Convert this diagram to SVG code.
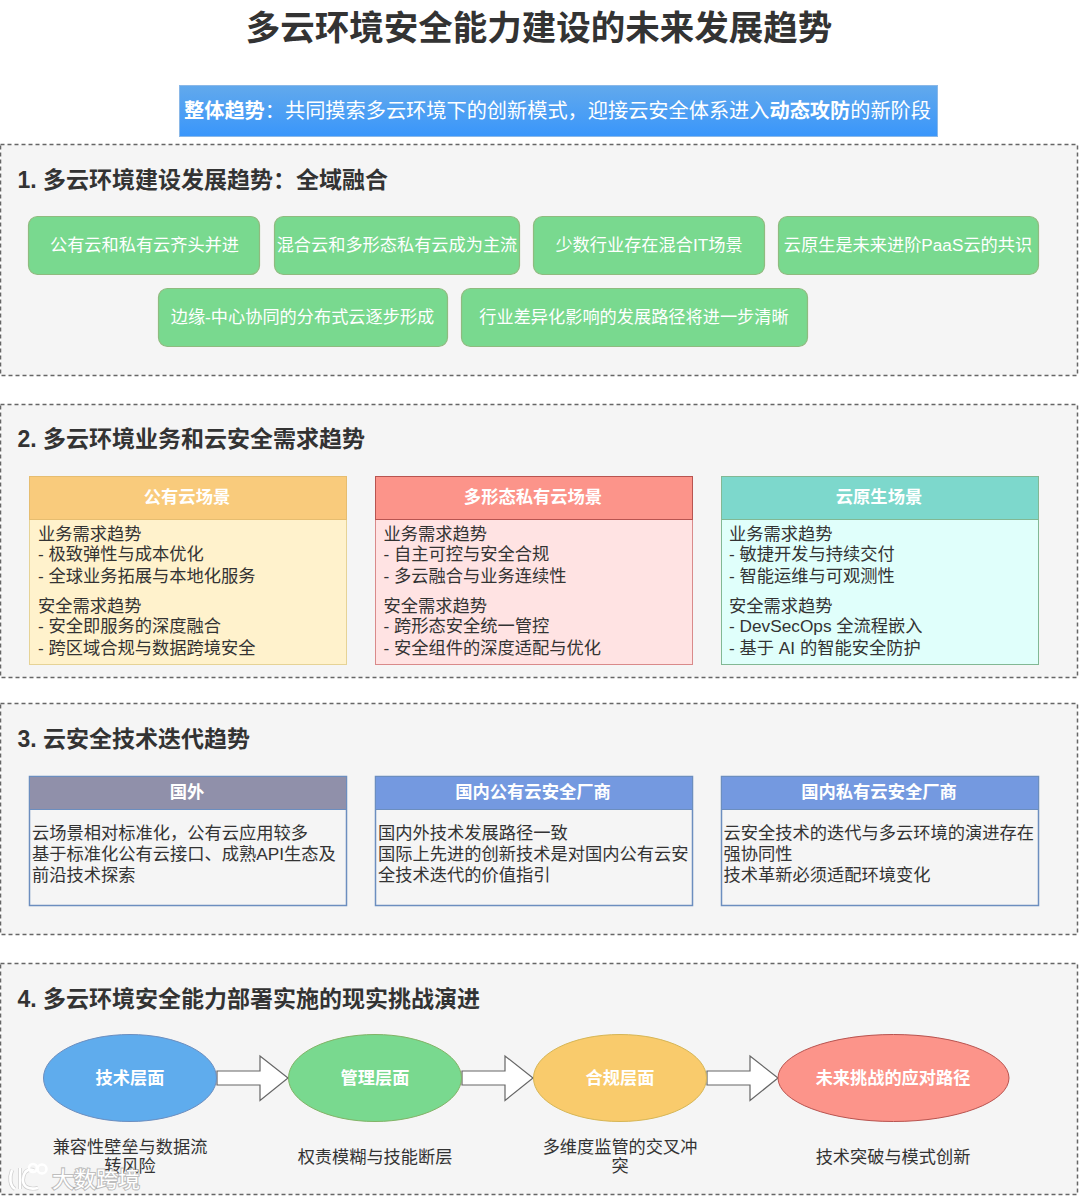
<svg xmlns="http://www.w3.org/2000/svg" width="1080" height="1198" viewBox="0 0 1080 1198">
<style>
text{font-family:"Liberation Sans","Noto Sans CJK SC",sans-serif}
.c{text-anchor:middle}
.sec{fill:#f5f5f5;stroke:#666;stroke-width:1.500;stroke-dasharray:4 3}
.h{font-size:23px;font-weight:bold;fill:#333}
.g rect{fill:#79d98f;stroke:#8fbb7f;stroke-width:1.200}
.g text{font-size:17.200px;fill:#fff;text-anchor:middle}
.th{font-size:17.300px;font-weight:bold;fill:#fff;text-anchor:middle}
.b{font-size:17.250px;fill:#333}
.e{font-size:17.200px;font-weight:bold;fill:#fff;text-anchor:middle}
.cap{font-size:17.200px;fill:#333;text-anchor:middle}
.arrow{fill:#fff;stroke:#666;stroke-width:1.200}
.wmh{fill:none;stroke:#999;stroke-width:4;opacity:.45}
.wm{fill:none;stroke:#fff;stroke-width:2.600}
</style>
<defs><linearGradient id="bl" x1="0" y1="0" x2="0" y2="1"><stop offset="0" stop-color="#62a9ec"/><stop offset="1" stop-color="#3996fb"/></linearGradient></defs>
<rect width="1080" height="1198" fill="#fff"/>
<text id="title" x="539" y="40" class="c" font-size="34.500" font-weight="bold" fill="#333">多云环境安全能力建设的未来发展趋势</text>
<g id="overall"><rect x="179.500" y="85.500" width="758" height="51" fill="url(#bl)" stroke="#8ab8e8"/>
<text x="557.500" y="118" class="c" font-size="20.200" fill="#fff"><tspan font-weight="bold">整体趋势</tspan>：共同摸索多云环境下的创新模式，迎接云安全体系进入<tspan font-weight="bold">动态攻防</tspan>的新阶段</text></g>

<g id="section1"><rect class="sec" x="0.500" y="144.500" width="1077" height="231"/>
<text class="h" x="17.500" y="188">1. 多云环境建设发展趋势：全域融合</text>
<g class="g">
<g id="n1a"><rect x="28.500" y="216.500" width="231" height="58" rx="9"/><text x="144.500" y="251">公有云和私有云齐头并进</text></g>
<g id="n1b"><rect x="274.500" y="216.500" width="245" height="58" rx="9"/><text x="397" y="251">混合云和多形态私有云成为主流</text></g>
<g id="n1c"><rect x="533.500" y="216.500" width="231" height="58" rx="9"/><text x="649" y="251">少数行业存在混合IT场景</text></g>
<g id="n1d"><rect x="778.500" y="216.500" width="260" height="58" rx="9"/><text x="908" y="251">云原生是未来进阶PaaS云的共识</text></g>
<g id="n1e"><rect x="158.500" y="288.500" width="289" height="58" rx="9"/><text x="302.500" y="323">边缘-中心协同的分布式云逐步形成</text></g>
<g id="n1f"><rect x="461.500" y="288.500" width="346" height="58" rx="9"/><text x="634" y="323">行业差异化影响的发展路径将进一步清晰</text></g>
</g></g>

<g id="section2"><rect class="sec" x="0.500" y="404.500" width="1077" height="273"/>
<text class="h" x="17.500" y="447">2. 多云环境业务和云安全需求趋势</text>
<g id="n2a"><rect x="29.500" y="476.500" width="317" height="188" fill="#fff2cc" stroke="#e6d396"/><rect x="29.500" y="476.500" width="317" height="43" fill="#f9cb7c" stroke="#e6bd70"/>
<text class="th" x="187" y="503">公有云场景</text>
<text class="b" x="38" y="540">业务需求趋势</text><text class="b" x="38" y="560">- 极致弹性与成本优化</text><text class="b" x="38" y="582">- 全球业务拓展与本地化服务</text>
<text class="b" x="38" y="612">安全需求趋势</text><text class="b" x="38" y="632">- 安全即服务的深度融合</text><text class="b" x="38" y="654">- 跨区域合规与数据跨境安全</text></g>
<g id="n2b"><rect x="375.500" y="476.500" width="317" height="188" fill="#ffe3e3" stroke="#d98a8a"/><rect x="375.500" y="476.500" width="317" height="43" fill="#fc948a" stroke="#b85450"/>
<text class="th" x="533" y="503">多形态私有云场景</text>
<text class="b" x="383.500" y="540">业务需求趋势</text><text class="b" x="383.500" y="560">- 自主可控与安全合规</text><text class="b" x="383.500" y="582">- 多云融合与业务连续性</text>
<text class="b" x="383.500" y="612">安全需求趋势</text><text class="b" x="383.500" y="632">- 跨形态安全统一管控</text><text class="b" x="383.500" y="654">- 安全组件的深度适配与优化</text></g>
<g id="n2c"><rect x="721.500" y="476.500" width="317" height="188" fill="#e0fffb" stroke="#82b894"/><rect x="721.500" y="476.500" width="317" height="43" fill="#7dd8cc" stroke="#82b894"/>
<text class="th" x="879" y="503">云原生场景</text>
<text class="b" x="729" y="540">业务需求趋势</text><text class="b" x="729" y="560">- 敏捷开发与持续交付</text><text class="b" x="729" y="582">- 智能运维与可观测性</text>
<text class="b" x="729" y="612">安全需求趋势</text><text class="b" x="729" y="632">- DevSecOps 全流程嵌入</text><text class="b" x="729" y="654">- 基于 AI 的智能安全防护</text></g></g>

<g id="section3"><rect class="sec" x="0.500" y="703.500" width="1077" height="231"/>
<text class="h" x="17.500" y="747">3. 云安全技术迭代趋势</text>
<g id="n3a"><rect x="29.500" y="776.500" width="317" height="129" fill="#f5f5f5" stroke="#6c8ebf" stroke-width="1.500"/><rect x="29.500" y="776.500" width="317" height="33" fill="#9090aa" stroke="#6c8ebf"/>
<text class="th" x="187" y="798">国外</text>
<text class="b" x="32" y="839">云场景相对标准化，公有云应用较多</text><text class="b" x="32" y="860">基于标准化公有云接口、成熟API生态及</text><text class="b" x="32" y="881">前沿技术探索</text></g>
<g id="n3b"><rect x="375.500" y="776.500" width="317" height="129" fill="#f5f5f5" stroke="#6c8ebf" stroke-width="1.500"/><rect x="375.500" y="776.500" width="317" height="33" fill="#7499e0" stroke="#6c8ebf"/>
<text class="th" x="533" y="798">国内公有云安全厂商</text>
<text class="b" x="378" y="839">国内外技术发展路径一致</text><text class="b" x="378" y="860">国际上先进的创新技术是对国内公有云安</text><text class="b" x="378" y="881">全技术迭代的价值指引</text></g>
<g id="n3c"><rect x="721.500" y="776.500" width="317" height="129" fill="#f5f5f5" stroke="#6c8ebf" stroke-width="1.500"/><rect x="721.500" y="776.500" width="317" height="33" fill="#7499e0" stroke="#6c8ebf"/>
<text class="th" x="879" y="798">国内私有云安全厂商</text>
<text class="b" x="723.500" y="839">云安全技术的迭代与多云环境的演进存在</text><text class="b" x="723.500" y="860">强协同性</text><text class="b" x="723.500" y="881">技术革新必须适配环境变化</text></g></g>

<g id="section4"><rect class="sec" x="0.500" y="963.500" width="1077" height="231"/>
<text class="h" x="17.500" y="1007">4. 多云环境安全能力部署实施的现实挑战演进</text>
<g id="connectors">
<path class="arrow" d="M217 1071H260V1056L288 1078L260 1100.500V1085H217Z"/>
<path class="arrow" d="M462 1071H505V1056L533 1078L505 1100.500V1085H462Z"/>
<path class="arrow" d="M707 1071H750V1056L778 1078L750 1100.500V1085H707Z"/>
</g>
<g id="n4a"><ellipse cx="130" cy="1078" rx="86.500" ry="43.500" fill="#5faced" stroke="#6c8ebf"/><text class="e" x="130" y="1084">技术层面</text><text class="cap" x="130" y="1153">兼容性壁垒与数据流</text><text class="cap" x="130" y="1172">转风险</text></g>
<g id="n4b"><ellipse cx="375" cy="1078" rx="86.500" ry="43.500" fill="#79d98f" stroke="#82b366"/><text class="e" x="375" y="1084">管理层面</text><text class="cap" x="375" y="1163">权责模糊与技能断层</text></g>
<g id="n4c"><ellipse cx="620" cy="1078" rx="86.500" ry="43.500" fill="#f9cb6c" stroke="#d6b656"/><text class="e" x="620" y="1084">合规层面</text><text class="cap" x="620" y="1153">多维度监管的交叉冲</text><text class="cap" x="620" y="1172">突</text></g>
<g id="n4d"><ellipse cx="893.500" cy="1078" rx="115.500" ry="43.500" fill="#fc948a" stroke="#b85450"/><text class="e" x="893" y="1084">未来挑战的应对路径</text><text class="cap" x="893" y="1163">技术突破与模式创新</text></g>
</g>
<g id="watermark">
<path class="wmh" d="M12 1170C9 1178 10 1186 15 1189M20 1168V1189M34 1170C25 1168 23 1175 23 1180C23 1187 29 1190 38 1188"/>
<path class="wm" d="M12 1170C9 1178 10 1186 15 1189M20 1168V1189M34 1170C25 1168 23 1175 23 1180C23 1187 29 1190 38 1188"/>
<circle class="wm" cx="33" cy="1168" r="4" stroke-width="2"/><circle class="wm" cx="42" cy="1169" r="4.500" stroke-width="2"/>
<text x="52" y="1187" font-size="22" fill="#fff" stroke="#888" stroke-width="2.200" stroke-opacity=".5" paint-order="stroke">大数跨境</text>
</g>
</svg>
